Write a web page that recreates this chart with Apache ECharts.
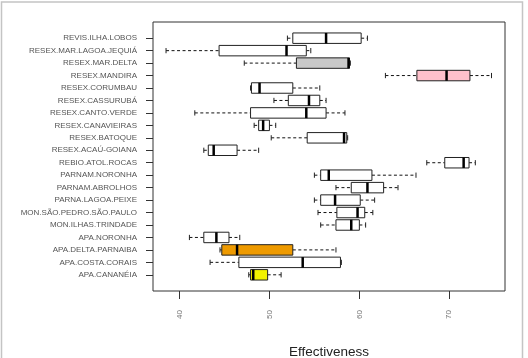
<!DOCTYPE html>
<html>
<head>
<meta charset="utf-8">
<script src="https://cdn.jsdelivr.net/npm/echarts@6/dist/echarts.min.js"></script>
<style>
  html, body { margin: 0; padding: 0; background: #fff; }
  #chart_box { width: 528px; height: 358px; }
</style>
</head>
<body>
<div id="chart_box"></div>
<script>
'use strict';

// row names, top to bottom
const arrNames = ['REVIS.ILHA.LOBOS', 'RESEX.MAR.LAGOA.JEQUIÁ', 'RESEX.MAR.DELTA', 'RESEX.MANDIRA',
    'RESEX.CORUMBAU', 'RESEX.CASSURUBÁ', 'RESEX.CANTO.VERDE', 'RESEX.CANAVIEIRAS', 'RESEX.BATOQUE',
    'RESEX.ACAÚ-GOIANA', 'REBIO.ATOL.ROCAS', 'PARNAM.NORONHA', 'PARNAM.ABROLHOS', 'PARNA.LAGOA.PEIXE',
    'MON.SÃO.PEDRO.SÃO.PAULO', 'MON.ILHAS.TRINDADE', 'APA.NORONHA', 'APA.DELTA.PARNAIBA',
    'APA.COSTA.CORAIS', 'APA.CANANÉIA'];

// five numbers per row
const arrMin = [52.0, 38.5, 47.2, 62.9, 47.9, 50.5, 41.7, 48.3, 50.2, 42.7, 67.5, 55.0, 57.4, 55.0, 55.4, 55.7, 41.1, 44.5, 43.4, 47.7];
const arrQ1 = [52.6, 44.4, 53.0, 66.4, 48.0, 52.1, 47.9, 48.8, 54.2, 43.2, 69.5, 55.7, 59.1, 55.7, 57.5, 57.4, 42.7, 44.7, 46.6, 47.9];
const arrMed = [56.3, 51.9, 58.8, 69.7, 48.9, 54.4, 54.1, 49.3, 58.3, 43.8, 71.6, 56.6, 60.9, 57.3, 59.8, 59.1, 44.1, 46.4, 53.7, 48.2];
const arrQ3 = [60.2, 54.1, 58.9, 72.3, 52.6, 55.6, 56.3, 50.0, 58.6, 46.4, 72.2, 61.4, 62.7, 60.1, 60.6, 60.0, 45.5, 52.6, 57.9, 49.8];
const arrMax = [60.9, 54.6, 59.0, 74.7, 55.6, 56.3, 58.4, 50.7, 58.7, 48.8, 72.9, 66.3, 64.3, 61.7, 61.5, 60.7, 46.7, 57.4, 58.0, 51.3];

// highlighted boxes
const hshFill = {
    'RESEX.MAR.DELTA': '#c9c9c9',
    'RESEX.MANDIRA': '#ffc0cb',
    'APA.DELTA.PARNAIBA': '#ee9a00',
    'APA.CANANÉIA': '#f2f200'
};

const arrTicksX = [40, 50, 60, 70];
const arrRows = arrNames.map((s, i) => i);

const chartBox = echarts.init(document.getElementById('chart_box'));

const arrData = arrNames.map((s, i) => [i, arrMin[i], arrQ1[i], arrMed[i], arrQ3[i], arrMax[i]]);

const renderBox = (params, api) => {
    const row = api.value(0);
    const pMin = api.coord([api.value(1), row]);
    const pQ1 = api.coord([api.value(2), row]);
    const pMed = api.coord([api.value(3), row]);
    const pQ3 = api.coord([api.value(4), row]);
    const pMax = api.coord([api.value(5), row]);
    const h = api.size([0, 1])[1] * 0.84;
    const cap = h * 0.5;
    const y = pMed[1];
    const fill = hshFill[arrNames[row]] || '#ffffff';
    const dash = { stroke: '#111', lineWidth: 1, lineDash: [3, 2.5] };
    const solid = { stroke: '#222', lineWidth: 1 };
    return {
        type: 'group',
        children: [
            { type: 'line', shape: { x1: pMin[0], y1: y, x2: pQ1[0], y2: y }, style: dash },
            { type: 'line', shape: { x1: pQ3[0], y1: y, x2: pMax[0], y2: y }, style: dash },
            { type: 'line', shape: { x1: pMin[0], y1: y - cap / 2, x2: pMin[0], y2: y + cap / 2 }, style: solid },
            { type: 'line', shape: { x1: pMax[0], y1: y - cap / 2, x2: pMax[0], y2: y + cap / 2 }, style: solid },
            {
                type: 'rect',
                shape: { x: pQ1[0], y: y - h / 2, width: pQ3[0] - pQ1[0], height: h },
                style: { fill: fill, stroke: '#222', lineWidth: 1 }
            },
            { type: 'line', shape: { x1: pMed[0], y1: y - h / 2, x2: pMed[0], y2: y + h / 2 }, style: { stroke: '#000', lineWidth: 2.5 } }
        ]
    };
};

const option = {
    animation: false,
    backgroundColor: '#fff',
    textStyle: { fontFamily: 'Liberation Sans' },
    graphic: [{
        type: 'rect',
        shape: { x: 1.5, y: 2, width: 521, height: 380 },
        style: { fill: 'none', stroke: '#c4c4c4', lineWidth: 1.5 },
        silent: true
    }],
    grid: {
        left: 153,
        right: 23,
        top: 22,
        bottom: 67,
        outerBoundsMode: 'none',
        show: true,
        borderColor: '#333',
        borderWidth: 1
    },
    xAxis: {
        type: 'value',
        min: 37.05,
        max: 76.2,
        name: 'Effectiveness',
        nameLocation: 'middle',
        nameGap: 54,
        nameTextStyle: { fontSize: 13.5, color: '#222' },
        axisLine: { show: false, onZero: false },
        axisTick: { show: true, length: 8, customValues: arrTicksX, lineStyle: { color: '#333' } },
        axisLabel: { customValues: arrTicksX, rotate: 90, margin: 19, fontSize: 8, color: '#777' },
        splitLine: { show: false }
    },
    yAxis: {
        type: 'value',
        inverse: true,
        min: -1.3,
        max: 20.3,
        axisLine: { show: false, onZero: false },
        axisTick: { show: true, length: 7, customValues: arrRows, lineStyle: { color: '#333' } },
        axisLabel: {
            customValues: arrRows,
            margin: 16,
            fontSize: 8,
            color: '#555',
            formatter: (v) => arrNames[v]
        },
        splitLine: { show: false }
    },
    series: [{
        type: 'custom',
        renderItem: renderBox,
        encode: { x: [1, 2, 3, 4, 5], y: 0 },
        data: arrData
    }]
};

chartBox.setOption(option);
</script>
</body>
</html>
